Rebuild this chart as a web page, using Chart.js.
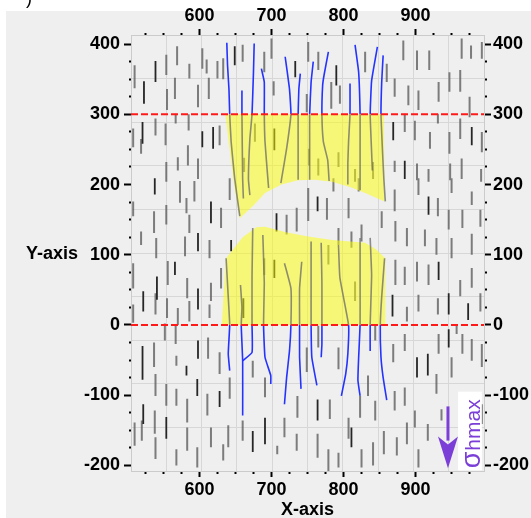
<!DOCTYPE html>
<html>
<head>
<meta charset="utf-8">
<script src="https://cdn.jsdelivr.net/npm/chart.js@4.4.1/dist/chart.umd.min.js"></script>
<style>
  html, body { margin: 0; padding: 0; background: #fff; }
</style>
</head>
<body>
<canvas id="chart" width="531" height="518"></canvas>
<script>
// Axis ranges and labelled ticks
const xRange = [505, 995];
const yRange = [-208, 413];
const xTickLabels = [600, 700, 800, 900];
const yTickLabels = [-200, -100, 0, 100, 200, 300, 400];
const refLines = [0, 300];

// Stress direction markers: [x, yLow, yHigh]
const darkMarks = [
  [523,315,347],[539,346,376],[649,370,397],[733,353,376],[604,253,276],[619,251,282],[521,258,289],
  [790,341,370],[869,263,289],[885,208,234],[978,256,282],[704,249,280],
  [538,186,209],[616,145,176],[598,105,131],[566,71,90],[541,36,69],[598,22,52],[522,19,48],
  [644,105,121],[661,10,38],[707,133,159],[704,67,93],
  [764,162,183],[918,157,183],[932,64,90],[868,12,43],[946,15,45],[973,7,31],
  [521,-78,-30],[582,-72,-58],[598,-48,-22],[597,-101,-77],[628,-117,-94],[522,-141,-113],
  [554,-162,-131],[674,-181,-151],[691,-170,-132],
  [902,-75,-46],[917,-72,-41],[946,-32,-6],[764,-136,-106],[811,-174,-146]
];
const grayMarks = [
  [510,337,370],[554,356,385],[569,370,397],[566,322,352],[555,306,336],[586,351,372],[598,310,342],
  [604,365,394],[610,358,378],[613,322,352],[625,351,376],[633,350,380],[660,375,399],[690,360,389],
  [700,379,408],[703,327,347],[508,253,280],[539,270,294],[553,256,287],[567,287,301],[585,277,300],
  [584,227,256],[570,220,239],[628,256,284],[598,208,237],[554,204,232],[519,244,265],[662,218,238],
  [677,261,287],
  [751,375,403],[765,363,389],[749,303,329],[783,308,346],[795,315,341],[830,360,389],[860,346,372],
  [871,325,351],[883,377,405],[890,313,341],[902,363,391],[904,306,334],[919,363,391],[932,318,346],
  [947,332,360],[962,332,363],[964,379,408],[975,296,325],[977,379,398],[992,379,403],
  [885,275,301],[899,263,291],[931,287,301],[920,251,275],[947,244,275],[962,265,294],[992,246,275],
  [871,218,234],[902,206,230],[918,204,222],[948,206,230],[964,208,237],[991,204,222],[765,213,237],
  [793,225,246],[816,204,222],[841,208,232],[752,227,251],
  [508,155,176],[573,174,205],[593,176,205],[642,178,209],[537,131,162],[554,143,171],[582,159,181],
  [586,131,157],[630,138,167],[519,114,133],[540,95,124],[580,98,126],[614,95,121],[508,52,88],
  [556,57,91],[583,38,67],[616,34,60],[630,52,81],[539,15,45],[555,10,38],[586,5,34],[614,10,29],
  [508,3,29],[570,0,24],[690,71,95],[721,129,157],[735,133,167],[751,171,195],
  [777,150,181],[793,114,138],[807,152,181],[811,110,133],[825,119,143],[751,148,181],[786,190,209],
  [821,190,209],[871,162,193],[904,185,209],[931,155,181],[950,188,209],[946,136,164],[965,138,164],
  [990,140,164],[978,171,190],[853,138,162],[872,119,148],[888,112,138],[913,112,136],[929,100,124],
  [950,95,124],[978,100,130],[872,57,93],[885,57,83],[902,62,90],[918,57,86],[962,41,64],[978,53,81],
  [888,5,26],[904,19,43],[931,15,38],[990,19,45],[779,86,114],[816,34,62],
  [537,-60,-25],[552,-22,2],[567,-27,1],[568,-58,-44],[612,-48,-18],[628,-70,-39],[539,-101,-70],
  [554,-115,-84],[568,-115,-91],[583,-139,-105],[611,-129,-98],[642,-105,-75],[510,-172,-139],
  [520,-165,-136],[538,-155,-122],[583,-179,-146],[616,-174,-146],[640,-174,-143],[539,-191,-160],
  [568,-200,-177],[597,-203,-174],[633,-193,-170],[660,-165,-136],[674,-75,-51],[691,-103,-75],
  [708,-184,-172],[718,-160,-132],[736,-132,-101],[735,-179,-155],
  [765,-32,-1],[749,-67,-32],[793,-63,-32],[844,-22,-1],[869,-53,-27],[885,-37,-13],[932,-41,-13],
  [957,-13,1],[965,-41,-13],[978,-51,-20],[992,-60,-27],[950,-75,-46],[929,-98,-70],[871,-122,-94],
  [885,-115,-89],[834,-101,-72],[844,-136,-108],[781,-134,-106],[807,-162,-132],[823,-132,-101],
  [856,-184,-151],[874,-186,-160],[888,-170,-139],[899,-146,-122],[917,-165,-141],[936,-136,-120],
  [980,-143,-115],[992,-141,-113],[764,-189,-155],[779,-208,-177],[793,-203,-182],[825,-203,-177],
  [841,-200,-167],[904,-203,-177]
];

// Fractures growing down from the upper reference line
const upperFractures = [
  [[638,402],[639,370],[641,335],[642,300],[644,261],[649,208],[656,155]],
  [[659,334],[659,300],[660,208],[661,180]],
  [[676,401],[675,360],[673,300],[670,265],[668,208],[670,185]],
  [[686,365],[690,346],[690,300],[691,261],[695,208],[696,195]],
  [[719,382],[725,336],[727,300],[721,251],[714,208],[713,202]],
  [[740,358],[738,336],[737,300],[737,250],[737,207]],
  [[758,375],[755,346],[753,300],[753,250],[753,207]],
  [[779,389],[773,356],[771,341],[770,300],[772,261],[778,235],[780,205]],
  [[809,344],[809,300],[807,261],[806,230],[806,200]],
  [[816,399],[821,360],[823,300],[823,250],[823,192]],
  [[847,396],[839,348],[837,300],[839,246],[840,220]],
  [[855,384],[853,346],[852,300],[854,250],[856,208],[858,176]]
];
// Fractures growing up from the lower reference line
const lowerFractures = [
  [[637,95],[640,40],[642,0],[640,-41],[642,-65]],
  [[657,57],[659,25],[658,0],[660,-51],[660,-129]],
  [[674,138],[673,70],[673,0],[673,-39],[660,-51]],
  [[688,128],[690,60],[689,0],[691,-46],[699,-72],[699,-84]],
  [[718,88],[727,52],[727,0],[725,-37],[721,-75],[718,-113]],
  [[742,90],[739,52],[739,0],[739,-46],[741,-91]],
  [[755,119],[755,60],[755,0],[756,-46],[763,-86]],
  [[769,117],[770,60],[770,0],[770,-27],[769,-46]],
  [[793,114],[795,67],[807,0],[806,-41],[803,-70],[797,-101]],
  [[823,124],[823,60],[823,0],[821,-46],[820,-79],[823,-101]],
  [[837,124],[839,71],[837,0],[837,-37]],
  [[857,95],[853,40],[851,0],[852,-46],[855,-75],[860,-107]]
];

// Fractured zones
const upperZone = [[636,300],[856,300],[857,176],[830,188],[810,196],[784,204],[760,207],[737,206],
  [714,200],[691,188],[675,170],[656,152],[648,200],[642,250],[636,300]];
const lowerZone = [[631,0],[858,0],[858,95],[845,108],[830,117],[784,121],[751,126],[720,132],
  [691,140],[679,139],[660,125],[637,95],[634,50],[631,0]];

// Arrow for max horizontal stress: x, top, head base, tip (data units)
const arrowX = 945;
const arrowY = [-116, -159, -204];
const labelBox = [959, 992, -207, -95];

const FONT = 'Liberation Sans, Arial, sans-serif';
const PURPLE = '#7b3fd8';

function pts(list) {
  return list.map(p => ({ x: p[0], y: p[1] }));
}

function markData(list) {
  const out = [];
  list.forEach(m => {
    out.push({ x: m[0], y: m[1] }, { x: m[0], y: m[2] }, { x: m[0], y: null });
  });
  return out;
}

// gray inside the band between the reference lines, blue outside
function fractureColor(ctx) {
  const a = ctx.p0.parsed.y, b = ctx.p1.parsed.y;
  const lo = Math.min(a, b), hi = Math.max(a, b);
  return (lo >= refLines[0] - 0.5 && hi <= refLines[1] + 0.5) ? 'rgba(105,105,105,0.75)' : '#2433ff';
}

const datasets = [];

refLines.forEach(v => {
  datasets.push({
    data: [{ x: xRange[0], y: v }, { x: xRange[1], y: v }],
    borderColor: '#ff1a1a', borderWidth: 2, borderDash: [7, 3],
    pointRadius: 0, order: 0
  });
});

upperFractures.concat(lowerFractures).forEach(f => {
  datasets.push({
    data: pts(f),
    borderWidth: 1.6, borderColor: '#2433ff',
    segment: { borderColor: fractureColor },
    pointRadius: 0, tension: 0.12, order: 1
  });
});

[upperZone, lowerZone].forEach(z => {
  datasets.push({
    data: pts(z),
    borderWidth: 0, borderColor: 'rgba(0,0,0,0)',
    backgroundColor: 'rgba(255,255,0,0.5)',
    fill: 'shape', pointRadius: 0, order: 2
  });
});

datasets.push({
  data: markData(darkMarks), borderColor: '#262626', borderWidth: 1.8,
  pointRadius: 0, spanGaps: false, order: 3
});
datasets.push({
  data: markData(grayMarks), borderColor: 'rgba(95,95,95,0.8)', borderWidth: 2,
  pointRadius: 0, spanGaps: false, order: 4
});

function isMajor(v) { return Math.abs(v % 100) < 0.01; }

function tickAxis(position, range, labels, tickLen, pad, size) {
  const horizontal = position === 'top' || position === 'bottom';
  const outerFirst = position === 'top' || position === 'left';
  return {
    type: 'linear', position: position, min: range[0], max: range[1],
    ticks: {
      stepSize: 25, includeBounds: false, autoSkip: false, maxRotation: 0,
      padding: pad, color: '#000',
      font: { family: FONT, size: 18, weight: 'bold' },
      callback: v => (isMajor(v) && labels.includes(v)) ? String(v) : ''
    },
    grid: {
      drawOnChartArea: false, tickLength: tickLen, tickColor: '#000', tickWidth: 2,
      tickBorderDash: ctx => {
        if (!ctx.tick || isMajor(ctx.tick.value)) return [];
        return outerFirst ? [0, tickLen - 2, 2, 40] : [2, 40];
      }
    },
    border: { display: true, color: '#cbcbcb', width: 1 },
    afterFit: s => { if (horizontal) s.height = size; else s.width = size; }
  };
}

const xAxis = tickAxis('bottom', xRange, xTickLabels, 6, 2, 47);
xAxis.title = {
  display: true, text: 'X-axis', color: '#000',
  font: { family: FONT, size: 18, weight: 'bold' }, padding: { top: 0, bottom: -3 }
};

function gridAxis(position) {
  const horizontal = position === 'bottom';
  return {
    type: 'linear', position: position, min: 0, max: 10,
    ticks: { display: false, stepSize: 1 },
    grid: { color: '#d7d7d7', lineWidth: 1, drawTicks: false },
    border: { display: false },
    afterFit: s => { if (horizontal) s.height = 0; else s.width = 0; }
  };
}

const backdrop = {
  id: 'backdrop',
  beforeDraw(chart) {
    const ctx = chart.ctx;
    ctx.save();
    ctx.fillStyle = '#ffffff';
    ctx.fillRect(0, 0, chart.width, chart.height);
    ctx.fillStyle = '#efefef';
    ctx.fillRect(6, 11, chart.width - 6, chart.height - 11);
    ctx.restore();
  },
  afterDraw(chart) {
    const ctx = chart.ctx, xs = chart.scales.x, ys = chart.scales.y, area = chart.chartArea;
    ctx.save();
    // stray caption fragment at top-left
    ctx.fillStyle = '#000';
    ctx.font = '18px ' + FONT;
    ctx.textBaseline = 'alphabetic';
    ctx.fillText(')', 26, 4);

    // horizontal y title
    ctx.font = 'bold 18px ' + FONT;
    ctx.textAlign = 'center';
    ctx.textBaseline = 'middle';
    ctx.fillText('Y-axis', 52, (area.top + area.bottom) / 2 + 1);

    // stress arrow
    const ax = xs.getPixelForValue(arrowX);
    const yTop = ys.getPixelForValue(arrowY[0]);
    const yBase = ys.getPixelForValue(arrowY[1]);
    const yTip = ys.getPixelForValue(arrowY[2]);
    ctx.strokeStyle = PURPLE;
    ctx.fillStyle = PURPLE;
    ctx.lineWidth = 3;
    ctx.beginPath();
    ctx.moveTo(ax, yTop);
    ctx.lineTo(ax, yBase + 4);
    ctx.stroke();
    ctx.beginPath();
    ctx.moveTo(ax - 10, yBase);
    ctx.lineTo(ax, yBase + 8);
    ctx.lineTo(ax + 10, yBase);
    ctx.lineTo(ax, yTip);
    ctx.closePath();
    ctx.fill();

    // label box with rotated sigma_hmax
    const bx0 = xs.getPixelForValue(labelBox[0]), bx1 = xs.getPixelForValue(labelBox[1]);
    const by0 = ys.getPixelForValue(labelBox[3]), by1 = ys.getPixelForValue(labelBox[2]);
    ctx.fillStyle = '#ffffff';
    ctx.fillRect(bx0, by0, bx1 - bx0, by1 - by0);
    ctx.translate(bx1 - 2, by1 - 2);
    ctx.rotate(-Math.PI / 2);
    ctx.fillStyle = PURPLE;
    ctx.textAlign = 'left';
    ctx.textBaseline = 'alphabetic';
    ctx.font = '27px ' + FONT;
    ctx.fillText('σ', 0, 0);
    const w = ctx.measureText('σ').width;
    ctx.font = '21px ' + FONT;
    ctx.fillText('hmax', w + 1, 0);
    ctx.restore();
  }
};

new Chart(document.getElementById('chart'), {
  type: 'line',
  data: { datasets: datasets },
  options: {
    responsive: false,
    animation: false,
    events: [],
    layout: { padding: 0 },
    plugins: { legend: { display: false }, tooltip: { enabled: false } },
    scales: {
      x: xAxis,
      x2: tickAxis('top', xRange, xTickLabels, 6, 2, 35),
      y: tickAxis('left', yRange, yTickLabels, 7, 4, 131),
      y2: tickAxis('right', yRange, yTickLabels, 7, 2, 47),
      xg: gridAxis('bottom'),
      yg: gridAxis('left')
    }
  },
  plugins: [backdrop]
});
</script>
</body>
</html>
